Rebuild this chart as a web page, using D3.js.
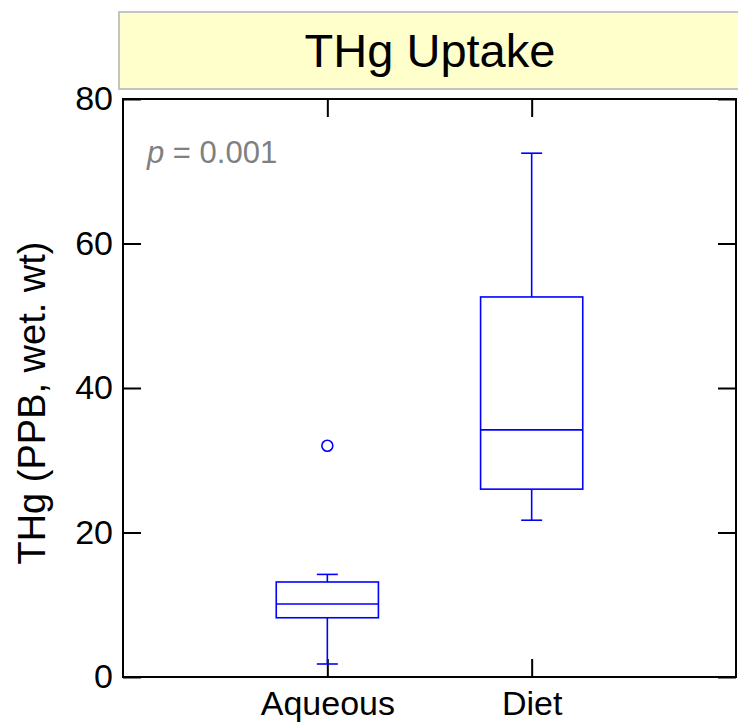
<!DOCTYPE html>
<html>
<head>
<meta charset="utf-8">
<script src="https://cdn.jsdelivr.net/npm/d3@7"></script>
<style>
  body { margin: 0; background: #fff; }
  svg { display: block; font-family: "Liberation Sans", Arial, sans-serif; }
</style>
</head>
<body>
<svg id="chart" width="738" height="724"></svg>
<script>
// Groups and their box-plot summaries (THg, ppb wet weight)
const groups = ["Aqueous", "Diet"];
const whiskerLow  = [1.8, 21.7];
const q1          = [8.2, 26.0];
const median      = [10.1, 34.2];
const q3          = [13.15, 52.6];
const whiskerHigh = [14.2, 72.5];
const outliers    = [[32.0], []];

const yTicks = [0, 20, 40, 60, 80];
const titleText = "THg Uptake";
const yLabel = "THg (PPB, wet. wt)";

(function draw() {
  const svg = d3.select("#chart");
  const plot = { left: 123, right: 736, top: 99, bottom: 677 };
  const tickLen = 18;
  const blue = "#0000ff";

  const x = d3.scalePoint().domain(groups).range([plot.left, plot.right]).padding(1);
  const y = d3.scaleLinear().domain([0, 80]).range([plot.bottom, plot.top]);

  // Title banner
  svg.append("rect")
    .attr("x", 119).attr("y", 12).attr("width", 630).attr("height", 77)
    .attr("fill", "#ffffcc").attr("stroke", "#c4c4c4").attr("stroke-width", 2);
  svg.append("text")
    .attr("x", 430).attr("y", 67)
    .attr("text-anchor", "middle")
    .attr("font-size", 47)
    .attr("fill", "#000")
    .text(titleText);

  // Axes with inward ticks on all four sides
  const axisFont = 34;
  const axLeft = svg.append("g").attr("transform", `translate(${plot.left},0)`)
    .call(d3.axisLeft(y).tickValues(yTicks).tickSizeInner(-tickLen).tickSizeOuter(0).tickPadding(10));
  const axRight = svg.append("g").attr("transform", `translate(${plot.right},0)`)
    .call(d3.axisRight(y).tickValues(yTicks).tickSizeInner(-tickLen).tickSizeOuter(0).tickFormat(""));
  const axBottom = svg.append("g").attr("transform", `translate(0,${plot.bottom})`)
    .call(d3.axisBottom(x).tickSizeInner(-tickLen).tickSizeOuter(0).tickPadding(14));
  const axTop = svg.append("g").attr("transform", `translate(0,${plot.top})`)
    .call(d3.axisTop(x).tickSizeInner(-tickLen).tickSizeOuter(0).tickFormat(""));

  [axLeft, axRight, axBottom, axTop].forEach(g => {
    g.select(".domain").remove();
    g.selectAll(".tick line").attr("stroke", "#000").attr("stroke-width", 2);
    g.selectAll(".tick text").attr("font-size", axisFont).attr("fill", "#000")
      .attr("font-family", "Liberation Sans, Arial, sans-serif");
  });
  axBottom.selectAll(".tick text").attr("dy", "0.71em");

  // Plot frame
  svg.append("rect")
    .attr("x", plot.left).attr("y", plot.top)
    .attr("width", plot.right - plot.left).attr("height", plot.bottom - plot.top)
    .attr("fill", "none").attr("stroke", "#000").attr("stroke-width", 2);

  // Y axis title
  svg.append("text")
    .attr("transform", `translate(45,403) rotate(-90)`)
    .attr("text-anchor", "middle")
    .attr("font-size", 38)
    .attr("fill", "#000")
    .text(yLabel);

  // p-value annotation
  const pText = svg.append("text")
    .attr("x", 147).attr("y", 163)
    .attr("font-size", 31)
    .attr("fill", "#808080");
  pText.append("tspan").attr("font-style", "italic").text("p");
  pText.append("tspan").text(" = 0.001");

  // Box plots
  const boxW = x.step() / 2;
  const capW = 21;
  const boxes = svg.append("g").attr("fill", "none").attr("stroke", blue).attr("stroke-width", 1.6);

  groups.forEach((g, i) => {
    const cx = x(g);
    const b = boxes.append("g");
    // whiskers and caps
    b.append("line").attr("x1", cx).attr("x2", cx).attr("y1", y(q3[i])).attr("y2", y(whiskerHigh[i]));
    b.append("line").attr("x1", cx).attr("x2", cx).attr("y1", y(q1[i])).attr("y2", y(whiskerLow[i]));
    b.append("line").attr("x1", cx - capW / 2).attr("x2", cx + capW / 2).attr("y1", y(whiskerHigh[i])).attr("y2", y(whiskerHigh[i]));
    b.append("line").attr("x1", cx - capW / 2).attr("x2", cx + capW / 2).attr("y1", y(whiskerLow[i])).attr("y2", y(whiskerLow[i]));
    // box and median
    b.append("rect").attr("x", cx - boxW / 2).attr("y", y(q3[i]))
      .attr("width", boxW).attr("height", y(q1[i]) - y(q3[i]));
    b.append("line").attr("x1", cx - boxW / 2).attr("x2", cx + boxW / 2).attr("y1", y(median[i])).attr("y2", y(median[i]));
    // outliers
    b.selectAll("circle").data(outliers[i]).join("circle")
      .attr("cx", cx).attr("cy", d => y(d)).attr("r", 5.5);
  });
})();
</script>
</body>
</html>
